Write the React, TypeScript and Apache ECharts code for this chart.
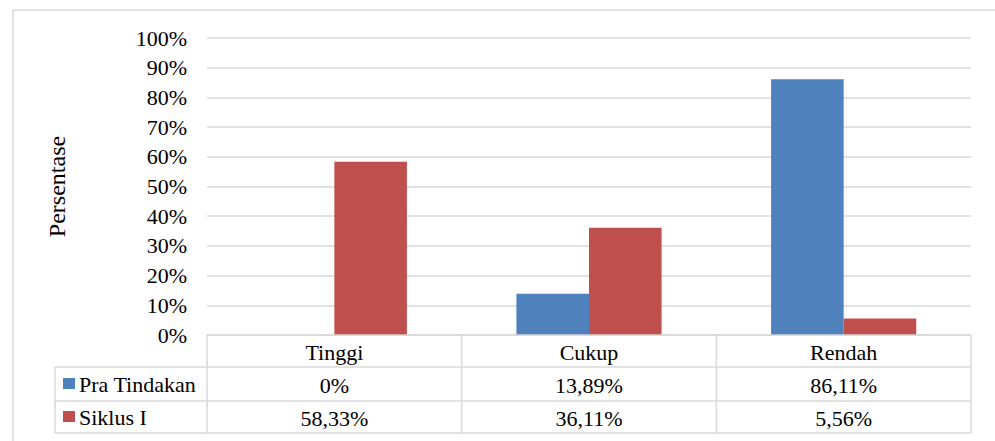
import React, { useEffect, useRef } from "react";
import * as echarts from "echarts";

const categories = ["Tinggi", "Cukup", "Rendah"];
const seriesNames = ["Pra Tindakan", "Siklus I"];
const praTindakan = [0, 13.89, 86.11];
const siklusI = [58.33, 36.11, 5.56];
const colors = ["#4F81BD", "#C0504D"];

const FONT = "'Liberation Serif', 'Times New Roman', 'DejaVu Serif', serif";
const W = 995;
const H = 441;
const GRID_LEFT = 207;
const GRID_RIGHT = 971;
const GRID_TOP = 38;
const GRID_BOTTOM = 335;
const ROW_H = 33;
const TABLE_LEFT = 55;
const LINE = "#D9D9D9";

function fmt(v: number): string {
  if (v === 0) return "0%";
  return v.toFixed(2).replace(".", ",") + "%";
}

export default function App() {
  const ref = useRef<HTMLDivElement>(null);
  useEffect(() => {
    if (!ref.current) return;
    const chart = echarts.init(ref.current, undefined, { renderer: "svg" });
    const t1 = GRID_BOTTOM + ROW_H - 1; // 367
    const t2 = GRID_BOTTOM + 2 * ROW_H; // 401
    const t3 = GRID_BOTTOM + 3 * ROW_H - 1; // 433
    const colW = (GRID_RIGHT - GRID_LEFT) / categories.length;
    const lines: any[] = [];
    const hl = (x1: number, x2: number, y: number) =>
      lines.push({ type: "line", shape: { x1, y1: y, x2, y2: y }, style: { stroke: LINE, lineWidth: 1.5 }, z: 10 });
    const vl = (x: number, y1: number, y2: number) =>
      lines.push({ type: "line", shape: { x1: x, y1, x2: x, y2 }, style: { stroke: LINE, lineWidth: 1.5 }, z: 10 });
    hl(GRID_LEFT, GRID_RIGHT, GRID_BOTTOM);
    hl(TABLE_LEFT, GRID_RIGHT, t1);
    hl(TABLE_LEFT, GRID_RIGHT, t2);
    hl(TABLE_LEFT, GRID_RIGHT, t3);
    vl(TABLE_LEFT, t1, t3);
    for (let i = 0; i <= categories.length; i++) vl(GRID_LEFT + i * colW, GRID_BOTTOM, t3);
    const rowCenters = [(t1 + t2) / 2, (t2 + t3) / 2];
    const legend: any[] = [];
    seriesNames.forEach((n, i) => {
      legend.push({
        type: "rect",
        shape: { x: 63, y: rowCenters[i] - 6, width: 12, height: 11 },
        style: { fill: colors[i] },
        z: 11,
      });
      legend.push({
        type: "text",
        x: 79,
        y: rowCenters[i],
        style: { text: n, fontFamily: FONT, fontSize: 22, fill: "#000", verticalAlign: "middle", align: "left" },
        z: 11,
      });
    });

    const labelStyle = { interval: 0, margin: 6, color: "#000", fontFamily: FONT, fontSize: 22, lineHeight: 22 };
    const valueAxis = (idx: number, data: number[]) => ({
      type: "category",
      data: data.map(fmt),
      position: "bottom",
      offset: ROW_H * idx,
      gridIndex: 0,
      axisLine: { show: false },
      axisTick: { show: false },
      splitLine: { show: false },
      axisLabel: labelStyle,
    });

    chart.setOption({
      animation: false,
      backgroundColor: "#fff",
      textStyle: { fontFamily: FONT },
      grid: { left: GRID_LEFT, top: GRID_TOP, width: GRID_RIGHT - GRID_LEFT, height: GRID_BOTTOM - GRID_TOP, containLabel: false },
      xAxis: [
        {
          type: "category",
          data: categories,
          position: "bottom",
          axisLine: { show: false },
          axisTick: { show: false },
          axisLabel: labelStyle,
        },
        valueAxis(1, praTindakan),
        valueAxis(2, siklusI),
      ],
      yAxis: {
        type: "value",
        min: 0,
        max: 100,
        interval: 10,
        name: "Persentase",
        nameLocation: "middle",
        nameRotate: 90,
        nameGap: 138,
        nameTextStyle: { fontFamily: FONT, fontSize: 24, color: "#000" },
        axisLine: { show: false },
        axisTick: { show: false },
        axisLabel: { formatter: "{value}%", margin: 20, color: "#000", fontFamily: FONT, fontSize: 22 },
        splitLine: { lineStyle: { color: LINE, width: 1.5 } },
      },
      series: [
        { type: "bar", name: seriesNames[0], data: praTindakan, xAxisIndex: 0, itemStyle: { color: colors[0] }, barGap: "0%", barCategoryGap: "43%" },
        { type: "bar", name: seriesNames[1], data: siklusI, xAxisIndex: 0, itemStyle: { color: colors[1] }, barGap: "0%", barCategoryGap: "43%" },
      ],
      graphic: [
        { type: "rect", shape: { x: 13, y: 10, width: 1000, height: 460 }, style: { fill: "none", stroke: LINE, lineWidth: 1.5 }, z: 9 },
        ...lines,
        ...legend,
      ],
    });
    return () => chart.dispose();
  }, []);
  return <div ref={ref} style={{ position: "fixed", left: 0, top: 0, width: W, height: H }} />;
}
